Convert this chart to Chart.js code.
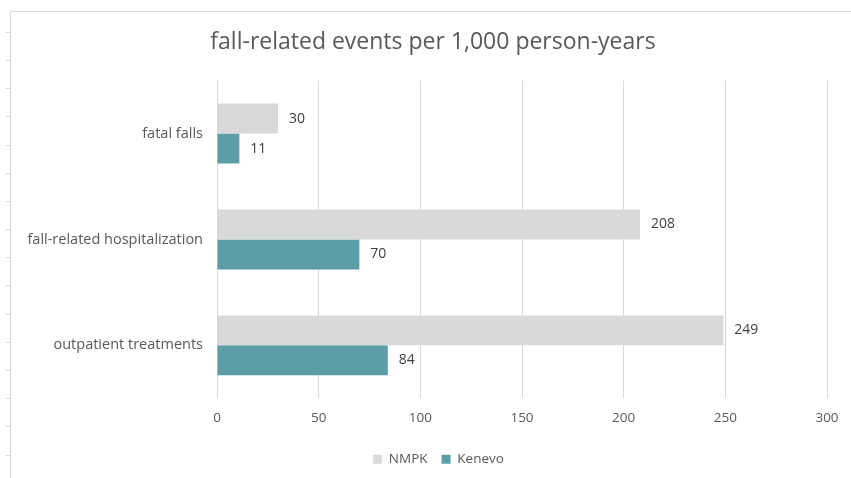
<!DOCTYPE html>
<html>
<head>
<meta charset="utf-8">
<script src="https://cdn.jsdelivr.net/npm/chart.js@4/dist/chart.umd.min.js"></script>
<style>
html,body{margin:0;padding:0;background:#fff;}
#wrap{position:relative;width:851px;height:478px;}
</style>
</head>
<body>
<div id="wrap"><canvas id="c" width="851" height="478"></canvas></div>
<script>
const categories = ["fatal falls", "fall-related hospitalization", "outpatient treatments"];
const nmpkValues = [30, 208, 249];
const kenevoValues = [11, 70, 84];
const seriesNames = ["NMPK", "Kenevo"];
const titleText = "fall-related events per 1,000 person-years";

const FONT = "'Open Sans', 'Liberation Sans', sans-serif";

const frame = {
  id: 'frame',
  afterLayout(chart) {
    if (chart.titleBlock) {
      chart.titleBlock.left += 13.5;
      chart.titleBlock.right += 13.5;
    }
    if (chart.legend) {
      const lg = chart.legend;
      const dx = 19;
      lg.left += dx; lg.right += dx;
      (lg.legendHitBoxes || []).forEach(b => { b.left += dx; });
      if (lg.lineWidths) { /* unchanged */ }
    }
  },
  beforeDraw(chart) {
    const ctx = chart.ctx;
    ctx.save();
    ctx.strokeStyle = '#d9d9d9';
    ctx.lineWidth = 1;
    ctx.beginPath();
    ctx.moveTo(10.5, 478); ctx.lineTo(10.5, 11.5); ctx.lineTo(851, 11.5);
    ctx.stroke();
    ctx.beginPath();
    for (let y = 31.7; y < 478; y += 28.2) {
      const yy = Math.round(y) + 0.5;
      ctx.moveTo(6, yy); ctx.lineTo(10, yy);
    }
    ctx.stroke();
    ctx.restore();
  }
};

const valueLabels = {
  id: 'valueLabels',
  afterDatasetsDraw(chart) {
    const ctx = chart.ctx;
    ctx.save();
    ctx.font = "14px " + FONT;
    ctx.fillStyle = '#404040';
    ctx.textBaseline = 'middle';
    ctx.textAlign = 'left';
    chart.data.datasets.forEach((ds, i) => {
      chart.getDatasetMeta(i).data.forEach((bar, j) => {
        ctx.fillText(String(ds.data[j]), bar.x + 11, bar.y);
      });
    });
    ctx.restore();
  }
};

new Chart(document.getElementById('c'), {
  type: 'bar',
  data: {
    labels: categories,
    datasets: [
      { label: seriesNames[0], data: nmpkValues, backgroundColor: '#d9d9d9', borderWidth: 0 },
      { label: seriesNames[1], data: kenevoValues, backgroundColor: '#5b9ea8', borderWidth: 0 }
    ]
  },
  options: {
    indexAxis: 'y',
    responsive: false,
    animation: false,
    devicePixelRatio: 1,
    categoryPercentage: 0.566,
    barPercentage: 1,
    layout: { padding: { left: 12, right: 24, top: 14, bottom: 2 } },
    plugins: {
      title: {
        display: true, text: titleText, color: '#595959',
        font: { family: FONT, size: 23, weight: 'normal' },
        padding: { top: 15, bottom: 24 }
      },
      legend: {
        position: 'bottom',
        labels: {
          color: '#595959', font: { family: FONT, size: 13.5 },
          boxWidth: 9, boxHeight: 9, padding: 14
        }
      },
      tooltip: { enabled: false }
    },
    scales: {
      x: {
        min: 0, max: 300,
        ticks: { stepSize: 50, color: '#595959', font: { family: FONT, size: 13.5 }, padding: 12 },
        grid: { color: '#d9d9d9', drawTicks: false },
        border: { display: false }
      },
      y: {
        ticks: { color: '#595959', font: { family: FONT, size: 14.5 }, padding: 6 },
        grid: { display: false },
        border: { display: true, color: '#d9d9d9' },
        afterFit(scale) { scale.width = 217 - 12; }
      }
    }
  },
  plugins: [frame, valueLabels]
});
</script>
</body>
</html>
